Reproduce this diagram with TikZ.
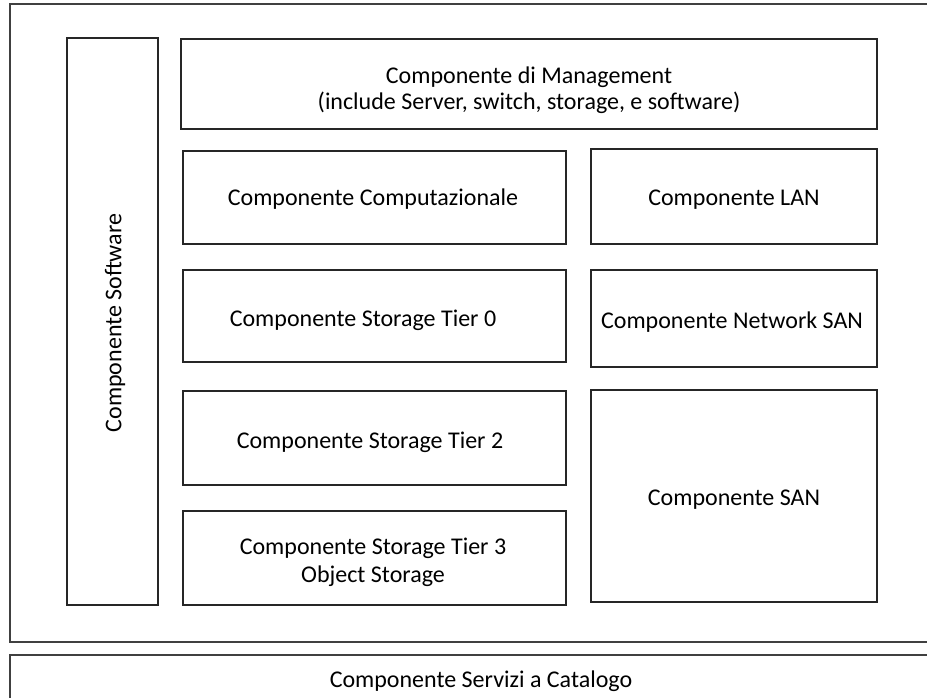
\documentclass[tikz,border=0pt]{standalone}
\usepackage{fontspec}
\setmainfont{Carlito}
\usetikzlibrary{fit}
\begin{document}
\begin{tikzpicture}[x=0.75pt,y=-0.75pt,
  box/.style={draw=black!85, line width=0.9pt, inner sep=0pt},
  lbl/.style={inner sep=0pt, align=center, font=\fontsize{18}{19.5}\selectfont}]
\clip (0,0) rectangle (927,698);
\fill[white] (0,0) rectangle (927,698);
% outer frame
\node[box, draw=black!75, fit={(10,4)(940,642)}] (outer) {};
% bottom box
\node[box, draw=black!75, fit={(10,655)(940,720)}] (cat) {};
\node[lbl] (catt) at (481,681.5) {Componente Servizi a Catalogo};
% software column
\node[box, fit={(67,38)(158,605)}] (sw) {};
\node[lbl, rotate=90] (swt) at (115,323) {Componente Software};
% management
\node[box, fit={(181,39)(877,129)}] (mgmt) {};
\node[lbl] (mgmtt) at (529,90) {Componente di Management\\(include Server, switch, storage, e software)};
% left column
\node[box, fit={(183,151)(566,244)}] (comp) {};
\node[lbl] (compt) at (373,199.5) {Componente Computazionale};
\node[box, fit={(183,270)(566,362)}] (t0) {};
\node[lbl] (t0t) at (363,320.5) {Componente Storage Tier 0};
\node[box, fit={(183,391)(566,485)}] (t2) {};
\node[lbl] (t2t) at (370,442.5) {Componente Storage Tier 2};
\node[box, fit={(183,511)(566,605)}] (t3) {};
\node[lbl, font=\fontsize{18}{21}\selectfont] (t3t) at (373,562) {Componente Storage Tier 3\\Object Storage};
% right column
\node[box, fit={(591,149)(877,244)}] (lan) {};
\node[lbl] (lant) at (734,199.5) {Componente LAN};
\node[box, fit={(591,270)(877,367)}] (nsan) {};
\node[lbl] (nsant) at (732,322.5) {Componente Network SAN};
\node[box, fit={(591,390)(877,602)}] (san) {};
\node[lbl] (sant) at (734,499.5) {Componente SAN};
\end{tikzpicture}
\end{document}
